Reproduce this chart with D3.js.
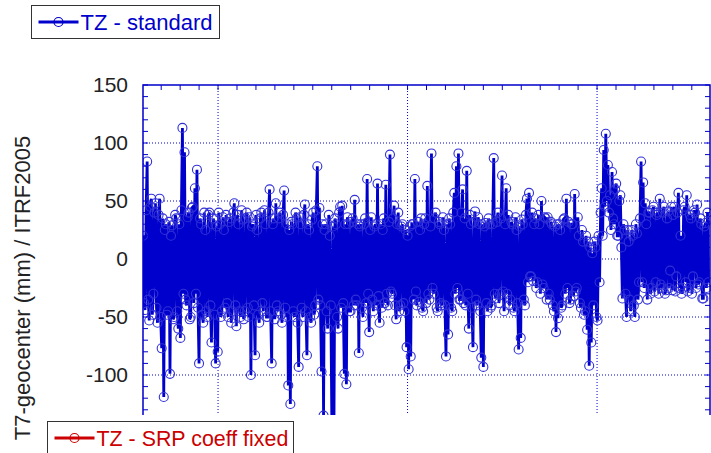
<!DOCTYPE html>
<html>
<head>
<meta charset="utf-8">
<script src="https://cdn.jsdelivr.net/npm/d3@7"></script>
<style>
  body { margin: 0; background: #fff; }
  svg { display: block; font-family: "Liberation Sans", Arial, sans-serif; }
</style>
</head>
<body>
<div id="chart"></div>
<script>
// du lieu doc tu hinh: TZ geocenter (mm), moi diem cach nhau 2 ngay
const startYear = 2002.604;
const stepDays = 2;
const tzStandard = [
  20, -38, -44, 42, 84, -35, -53, 45, 52, -48,
  -30, 40, 48, -42, -55, 38, 52, -50, -77, 35,
  -119, 25, 30, -48, -45, 32, -99, 20, 29, -52,
  -50, 38, 35, -45, -60, 30, -68, 42, 113, -30,
  92, -35, -40, 36, 40, -52, -50, 44, 45, -38,
  61, -30, 77, -42, -90, 35, 30, -48, -55, 40,
  25, -45, -50, 38, 40, -40, -72, 30, 35, -48,
  -90, 28, -80, 40, 30, -50, -45, 36, 25, -42,
  38, -38, -50, 32, 35, -55, -45, 40, 48, -40,
  -58, 38, 30, -45, -50, 42, 34, -52, -45, 35,
  40, -42, -50, 36, -100, 28, 30, -40, -83, 38,
  25, -48, -55, 35, 40, -38, -45, 42, 30, -50,
  -50, 40, 60, -45, -90, 30, 35, -52, 48, -40,
  -45, 35, 40, -48, -55, 38, 59, -42, -50, 30,
  -109, 25, -125, 32, 30, -45, -50, 40, 35, -55,
  -93, 36, 30, -42, -50, 38, 47, -45, -83, 30,
  25, -50, -55, 34, 40, -48, -40, 42, 80, -35,
  44, -40, -97, 30, -135, 25, 30, -45, -60, 38,
  20, -40, -142, 28, -150, 35, 30, -50, -60, 40,
  45, -42, 46, -38, -99, 30, -108, 36, 30, -45,
  -45, 32, 35, -40, 51, -35, -40, 30, -81, 28,
  30, -42, -50, 30, 35, -38, 69, -30, -63, 25,
  36, -35, -45, 28, 30, -40, 65, -32, -55, 30,
  -42, 25, 35, -38, 64, -30, -40, 32, 90, -28,
  -30, 35, 46, -40, -52, 30, 40, -45, -40, 28,
  30, -38, -45, 25, -76, 20, -95, 28, -84, 30,
  30, -35, 69, -28, -40, 32, -37, 25, 35, -42,
  -45, 30, 35, -38, 63, -30, -35, 28, 91, -25,
  -30, 35, 40, -42, -45, 32, 30, -38, -40, 36,
  25, -40, -84, 30, -65, 35, 30, -42, -45, 40,
  57, -30, 80, -25, 91, -35, -35, 40, 60, -38,
  35, -40, 76, -30, -60, 38, 30, -42, -76, 32,
  41, -35, -40, 36, 30, -45, -85, 30, -93, 28,
  31, -38, -45, 35, 30, -42, -40, 30, 87, -30,
  -34, 32, 40, -38, -30, 35, 72, -28, -45, 30,
  61, -30, 38, -40, -35, 32, 30, -42, -45, 36,
  25, -38, -78, 28, -68, 34, 30, -35, -40, 38,
  52, -20, 57, -15, -15, 40, -19, 30, 35, -25,
  -20, 38, 30, -30, 50, -22, -25, 36, 35, -35,
  36, -30, -35, 32, 30, -40, -45, 28, -63, 30,
  -51, 30, 25, -42, -40, 34, 35, -30, 52, -25,
  32, -38, -35, 30, 30, -32, 56, -28, -25, 36,
  20, -38, -42, 25, 15, -48, -45, 20, -61, 15,
  -92, 10, -72, 5, -40, 15, 10, -50, -53, 20,
  -20, 40, 61, 20, 94, 45, 108, 50, 81, 40,
  55, 25, 75, 35, 30, 60, 65, 20, 20, 50,
  55, 10, -34, 30, 25, -30, -50, 25, 15, -35,
  -45, 25, 20, -40, -50, 30, 22, -35, -20, 35,
  84, -20, 66, -25, 48, 30, -35, 40, 40, -30,
  -25, 42, 45, -28, -20, 38, 40, -30, 52, -22,
  -25, 40, 45, -30, -27, 35, 41, -25, -10, 45,
  -27, 38, 45, -28, -15, 40, 57, -25, 20, -30,
  -25, 42, 45, -20, 55, -28, -25, 38, 35, -30,
  -15, 42, 40, -25, 47, -22, -20, 35, 30, -34,
  -34, 28, 31, -25, 40, -20
];
const yLabels = [150, 100, 50, 0, -50, -100];
const yGrid = [100, 50, 0, -50, -100];
const xGrid = [2003, 2004, 2005];
const legendItems = ["TZ - standard", "TZ - SRP coeff fixed"];

const W = 711, H = 453;
const blue = "#0000cc", red = "#cc0000";
const plotL = 143, plotR = 710, plotT = 85, plotB = 433, cutY = 415;

const svg = d3.select("#chart").append("svg")
  .attr("width", W).attr("height", H);

const x = d3.scaleLinear().domain([startYear, 2005.596]).range([plotL, plotR]);
const y = d3.scaleLinear().domain([-150, 150]).range([plotB, plotT]);

const points = tzStandard.map((v, i) => ({ t: startYear + i * stepDays / 365.25, v: v }));

// vung ve bi cat o duoi
svg.append("defs").append("clipPath").attr("id", "plotClip")
  .append("rect").attr("x", plotL).attr("y", plotT - 10)
  .attr("width", plotR - plotL + 1).attr("height", cutY - plotT + 10);

const plot = svg.append("g").attr("clip-path", "url(#plotClip)");

// luoi cham
plot.selectAll(".hgrid").data(yGrid).enter().append("line")
  .attr("x1", plotL).attr("x2", plotR)
  .attr("y1", d => y(d)).attr("y2", d => y(d))
  .attr("stroke", blue).attr("stroke-width", 1).attr("stroke-dasharray", "1,2");
plot.selectAll(".vgrid").data(xGrid).enter().append("line")
  .attr("x1", d => x(d)).attr("x2", d => x(d))
  .attr("y1", plotT).attr("y2", plotB)
  .attr("stroke", blue).attr("stroke-width", 1).attr("stroke-dasharray", "1,2");

// duong + vong tron
plot.append("path").datum(points)
  .attr("fill", "none").attr("stroke", blue).attr("stroke-width", 2.8)
  .attr("stroke-linejoin", "miter")
  .attr("d", d3.line().x(d => x(d.t)).y(d => y(d.v)));
plot.selectAll("circle").data(points).enter().append("circle")
  .attr("cx", d => x(d.t)).attr("cy", d => y(d.v)).attr("r", 4.5)
  .attr("fill", "none").attr("stroke", "#3030d8").attr("stroke-width", 1.1);

// khung va vach chia (huong vao trong)
const frame = svg.append("g").attr("stroke", blue).attr("fill", "none");
frame.append("path")
  .attr("d", `M${plotL},${cutY}V${plotT}H${plotR}V${cutY}`)
  .attr("stroke-width", 1.5);

const yTicks = d3.range(-150, 151, 10).filter(v => y(v) <= cutY);
frame.selectAll(".lt").data(yTicks).enter().append("line")
  .attr("x1", plotL).attr("x2", plotL + 5)
  .attr("y1", d => y(d)).attr("y2", d => y(d));
frame.selectAll(".rt").data(yTicks).enter().append("line")
  .attr("x1", plotR - 5).attr("x2", plotR)
  .attr("y1", d => y(d)).attr("y2", d => y(d));

const xTicks = d3.range(2002.7, 2005.6, 0.1);
frame.selectAll(".tt").data(xTicks).enter().append("line")
  .attr("x1", d => x(d)).attr("x2", d => x(d))
  .attr("y1", plotT).attr("y2", plotT + 5);

// nhan truc y
svg.selectAll(".ylab").data(yLabels).enter().append("text")
  .attr("x", 128).attr("y", d => y(d)).attr("dy", "0.35em")
  .attr("text-anchor", "end").attr("font-size", 21).attr("fill", "#222")
  .text(d => d);

svg.append("text")
  .attr("transform", "translate(30,288) rotate(-90)")
  .attr("text-anchor", "middle").attr("font-size", 22).attr("fill", "#222")
  .text("T7-geocenter (mm) / ITRF2005");

// chu thich
function legend(g, label, color, bx, by, bw, bh, fs) {
  g.append("rect").attr("x", bx).attr("y", by).attr("width", bw).attr("height", bh)
    .attr("fill", "#fff").attr("stroke", "#333").attr("stroke-width", 1);
  const ly = by + 16.5;
  g.append("line").attr("x1", bx + 7).attr("x2", bx + 47)
    .attr("y1", ly).attr("y2", ly)
    .attr("stroke", color).attr("stroke-width", 3);
  g.append("circle").attr("cx", bx + 27).attr("cy", ly).attr("r", 4.5)
    .attr("fill", "none").attr("stroke", color).attr("stroke-width", 1.2);
  g.append("text").attr("x", bx + 49).attr("y", ly + 7.5)
    .attr("font-size", fs).attr("fill", color).text(label);
}
legend(svg.append("g"), legendItems[0], blue, 31.5, 5.5, 188, 33, 22);
legend(svg.append("g"), legendItems[1], red, 47.5, 421.5, 246, 40, 21.4);
</script>
</body>
</html>
